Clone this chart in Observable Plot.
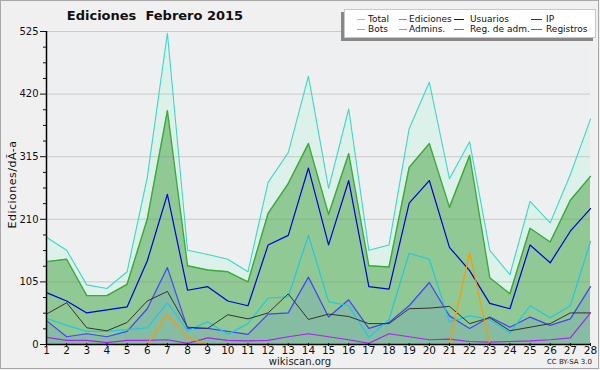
<!DOCTYPE html>
<html><head><meta charset="utf-8">
<script src="https://cdn.jsdelivr.net/npm/d3@7"></script>
<script src="https://cdn.jsdelivr.net/npm/@observablehq/plot@0.6"></script>
<style>
body{margin:0;background:#f0f0f0;font-family:"DejaVu Sans",sans-serif;}
#wrap{position:relative;width:600px;height:370px;overflow:hidden;background:#f0f0f0;}
#border{position:absolute;left:0;top:0;width:597px;height:367px;border:1px solid #a8a8a8;pointer-events:none;}
#title{position:absolute;left:60px;top:8px;width:190px;text-align:center;font-weight:bold;font-size:13px;color:#111;white-space:pre;}
#ylab{position:absolute;left:-38px;top:178px;width:100px;text-align:center;font-size:11px;transform:rotate(-90deg);transform-origin:center;white-space:nowrap;color:#111;letter-spacing:0.5px}
#legend{position:absolute;left:344px;top:9px;width:250px;height:27px;background:#fff;border:1px solid #c8c8c8;box-shadow:-3px 3px 0 #888;font-size:9px;color:#111;}
.sw{position:absolute;height:0;border-top:1.5px solid;}
.tx{position:absolute;white-space:nowrap;line-height:10px;}
#site{position:absolute;left:250px;top:356px;width:100px;text-align:center;font-size:10px;color:#222;}
#cc{position:absolute;left:530px;top:358px;width:62px;text-align:right;font-size:7px;color:#222;}
</style></head><body>
<div id="wrap">
<div id="chart"></div>
<div id="title">Ediciones  Febrero 2015</div>
<div id="ylab">Ediciones/dÃ-a</div>
<div id="legend"></div>
<div id="site">wikiscan.org</div>
<div id="cc">CC BY-SA 3.0</div>
<div id="border"></div>
</div>
<script>
const days = [1,2,3,4,5,6,7,8,9,10,11,12,13,14,15,16,17,18,19,20,21,22,23,24,25,26,27,28];
const total = [180,158,100,94,122,280,522,158,151,143,122,272,322,450,262,395,158,167,362,440,278,340,158,117,240,204,285,378];
const ediciones = [139,143,82,82,101,210,392,132,125,122,105,220,270,337,218,320,132,130,297,337,230,317,112,85,195,172,242,282];
const usuarios = [87,73,53,58,63,140,252,91,97,73,65,167,183,296,167,275,97,93,237,275,163,124,69,60,167,137,190,228];
const ip = [51,70,28,23,37,73,89,29,27,50,43,53,85,42,51,47,35,35,60,61,64,35,45,23,29,35,53,53];
const registros = [40,13,18,13,22,60,129,27,27,22,17,51,53,113,46,75,27,37,65,104,48,27,46,29,46,32,43,97];
const admins = [44,32,22,22,25,28,70,23,38,17,35,78,80,183,72,65,12,42,153,143,38,48,42,19,65,45,65,173];
const bots = [0,0,0,0,0,0,50,12,0,0,0,0,0,0,0,0,0,0,0,0,0,154,0,0,0,0,0,0];
const regadm = [12,7,7,3,7,7,8,2,11,7,6,7,13,18,13,8,2,18,13,8,9,5,4,5,6,8,11,53];
const yTicks = [0,105,210,315,420,525];
const yMinor = [26.25,52.5,78.75,131.25,157.5,183.75,236.25,262.5,288.75,341.25,367.5,393.75,446.25,472.5,498.75];

const legendItems = [
  ["Total","#5ee0d6"],["Ediciones","#44bb44"],["Usuarios","#0000dd"],["IP","#333333"],
  ["Bots","#ff9900"],["Admins.","#22ccdd"],["Reg. de adm.","#bb33ee"],["Registros","#5555ff"]
];

const rows = days.map((d,i)=>({d,total:total[i],ediciones:ediciones[i],usuarios:usuarios[i],ip:ip[i],registros:registros[i],admins:admins[i],bots:bots[i],regadm:regadm[i]}));

const ln = (key,color,w=1.2)=>Plot.line(rows,{x:"d",y:key,stroke:color,strokeWidth:w});

const chart = Plot.plot({
  width:600,height:370,
  marginLeft:46,marginRight:10,marginTop:31,marginBottom:26,
  style:{background:"transparent",fontFamily:"DejaVu Sans, sans-serif",fontSize:"10px",color:"#111"},
  x:{domain:[1,28]},
  y:{domain:[0,525]},
  marks:[
    Plot.rect([0],{x1:1,x2:28,y1:0,y2:525,fill:"#eeeff1"}),
    Plot.areaY(rows,{x:"d",y:"total",fill:"#dcf1ea"}),
    Plot.areaY(rows,{x:"d",y:"ediciones",fill:"#90c994"}),
    Plot.areaY(rows,{x:"d",y:"registros",fill:"#4466ff",fillOpacity:0.13}),
    Plot.gridY(yTicks.slice(1),{stroke:"#888",strokeOpacity:0.35,strokeWidth:1}),
    ln("total","#3cd8c8",1.1),
    ln("ediciones","#3aaa3a",1.4),
    ln("registros","#4444ff",1.2),
    ln("admins","#22c8e0",1.2),
    ln("ip","#333333",1),
    ln("usuarios","#0000dd",1.2),
    ln("regadm","#aa22ee",1.2),
    ln("bots","#ff9900",1.2),
    Plot.axisY({ticks:yTicks,tickSize:6,tickPadding:2,label:null,fontSize:10}),
    Plot.axisY({ticks:yMinor,tickSize:3,tickFormat:()=>"",label:null}),
    Plot.axisX({ticks:days,tickSize:3,tickPadding:0,dy:-1,label:null,tickFormat:d=>String(d),fontSize:10.5}),
    Plot.ruleX([1],{y1:0,y2:525,stroke:"#000",strokeWidth:1.5}),
    Plot.ruleY([0],{x1:1,x2:28,stroke:"#000",strokeWidth:1.5})
  ]
});
document.getElementById("chart").appendChild(chart);

const leg = document.getElementById("legend");
// [swatch left, swatch width, text left] relative to legend box
const cols = [[12,8,23],[54,8,64],[109,10,125],[186,11,201]];
legendItems.forEach(([name,color],i)=>{
  const [sl,sw,tl] = cols[i%4];
  const top = i<4?4:14;
  const s = document.createElement("div");
  s.className="sw"; s.style.left=sl+"px"; s.style.width=sw+"px"; s.style.top=(top+5)+"px"; s.style.borderColor=color;
  const t = document.createElement("div");
  t.className="tx"; t.style.left=tl+"px"; t.style.top=top+"px"; t.textContent=name;
  leg.appendChild(s); leg.appendChild(t);
});
</script>
</body></html>
